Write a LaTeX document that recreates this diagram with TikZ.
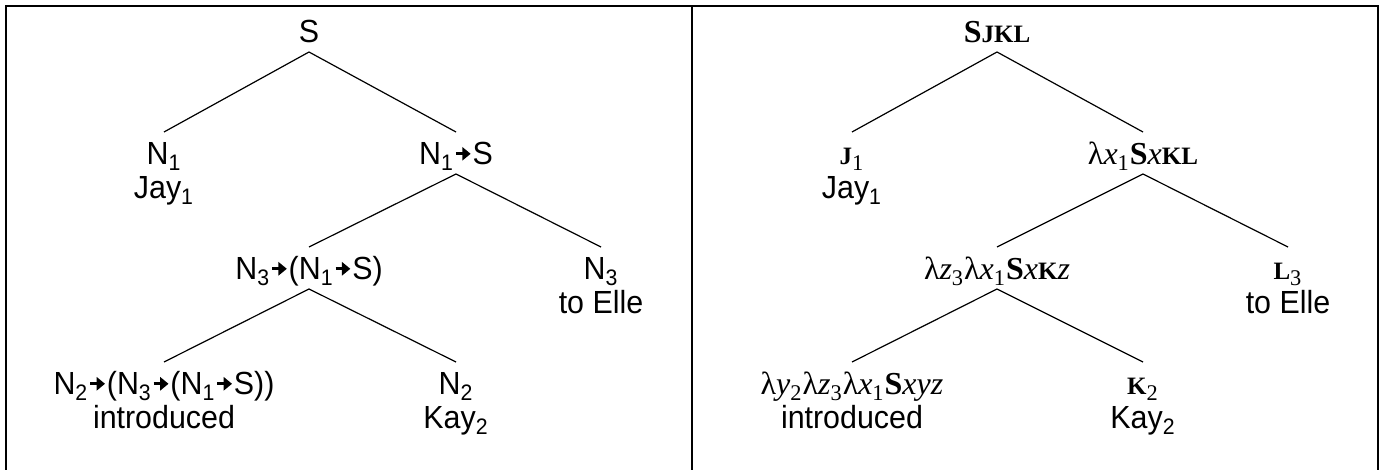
\documentclass[tikz,border=0pt]{standalone}
\usepackage{fontspec}
\setmainfont[FakeStretch=0.95]{Liberation Sans}
\newfontfamily\tms{Liberation Serif}
\usepackage{tikz}
\usetikzlibrary{positioning,arrows.meta}

% bold small constants J, K, L
\newcommand{\cn}[1]{{\fontsize{12.5}{13}\selectfont\bfseries #1}}
% heavy type arrow
\newcommand{\ar}{\kern0.2pt\tikz[baseline=-5.6pt]\draw[line width=1.5pt,-{Triangle[length=4.2pt,width=6.6pt]}] (0pt,0pt) -- (7.4pt,0pt);\kern0.2pt}

\begin{document}
\begin{tikzpicture}[x=0.5pt,y=-0.5pt,
  cat/.style={anchor=base,inner sep=0pt,outer sep=0pt,text height=16.5pt,text depth=4.5pt,
    font=\fontsize{16}{18}\selectfont},
  sem/.style={cat,font=\tms\fontsize{16}{18}\selectfont},
  word/.style={cat,text height=10.5pt,text depth=4pt},
  branch/.style={line width=0.6pt},
  frame/.style={line width=1pt}]
\useasboundingbox (0,0) rectangle (1383,470);
\draw[frame] (6,470) -- (6,6) -- (1378,6) -- (1378,470);
\draw[frame] (692,6) -- (692,470);

% types
\node[cat] (S) at (309,43) {S};
\node[cat] (N1) at (164,165) {N\textsubscript{1}};
\node[word] (jay) at (164,199) {Jay\textsubscript{1}};
\node[cat] (N1S) at (456,165) {N\textsubscript{1}\ar S};
\node[cat] (N3N1S) at (309,280) {N\textsubscript{3}\ar(N\textsubscript{1}\ar S)};
\node[cat] (N3) at (601,280) {N\textsubscript{3}};
\node[word] (elle) at (601,314) {to Elle};
\node[cat] (N2N3) at (164,395) {N\textsubscript{2}\ar(N\textsubscript{3}\ar(N\textsubscript{1}\ar S))};
\node[word] (intro) at (164,429) {introduced};
\node[cat] (N2) at (456,395) {N\textsubscript{2}};
\node[word] (kay) at (456,429) {Kay\textsubscript{2}};

\draw[branch] (S.south) -- (N1.north);
\draw[branch] (S.south) -- (N1S.north);
\draw[branch] (N1S.south) -- (N3N1S.north);
\draw[branch] (N1S.south) -- (N3.north);
\draw[branch] (N3N1S.south) -- (N2N3.north);
\draw[branch] (N3N1S.south) -- (N2.north);

% meanings
\node[sem] (rS) at (997,43) {\textbf{S}\cn{JKL}};
\node[sem] (rJ) at (852,165) {\cn{J}\textsubscript{1}};
\node[word] (rjay) at (852,199) {Jay\textsubscript{1}};
\node[sem] (rx) at (1143,165) {λ\textit{x}\textsubscript{1}\textbf{S}\textit{x}\cn{KL}};
\node[sem] (rzx) at (997,280) {λ\textit{z}\textsubscript{3}λ\textit{x}\textsubscript{1}\textbf{S}\textit{x}\cn{K}\textit{z}};
\node[sem] (rL) at (1288,280) {\cn{L}\textsubscript{3}};
\node[word] (relle) at (1288,314) {to Elle};
\node[sem] (ryzx) at (852,395) {λ\textit{y}\textsubscript{2}λ\textit{z}\textsubscript{3}λ\textit{x}\textsubscript{1}\textbf{S}\textit{xyz}};
\node[word] (rintro) at (852,429) {introduced};
\node[sem] (rK) at (1143,395) {\cn{K}\textsubscript{2}};
\node[word] (rkay) at (1143,429) {Kay\textsubscript{2}};

\draw[branch] (rS.south) -- (rJ.north);
\draw[branch] (rS.south) -- (rx.north);
\draw[branch] (rx.south) -- (rzx.north);
\draw[branch] (rx.south) -- (rL.north);
\draw[branch] (rzx.south) -- (ryzx.north);
\draw[branch] (rzx.south) -- (rK.north);
\end{tikzpicture}
\end{document}
